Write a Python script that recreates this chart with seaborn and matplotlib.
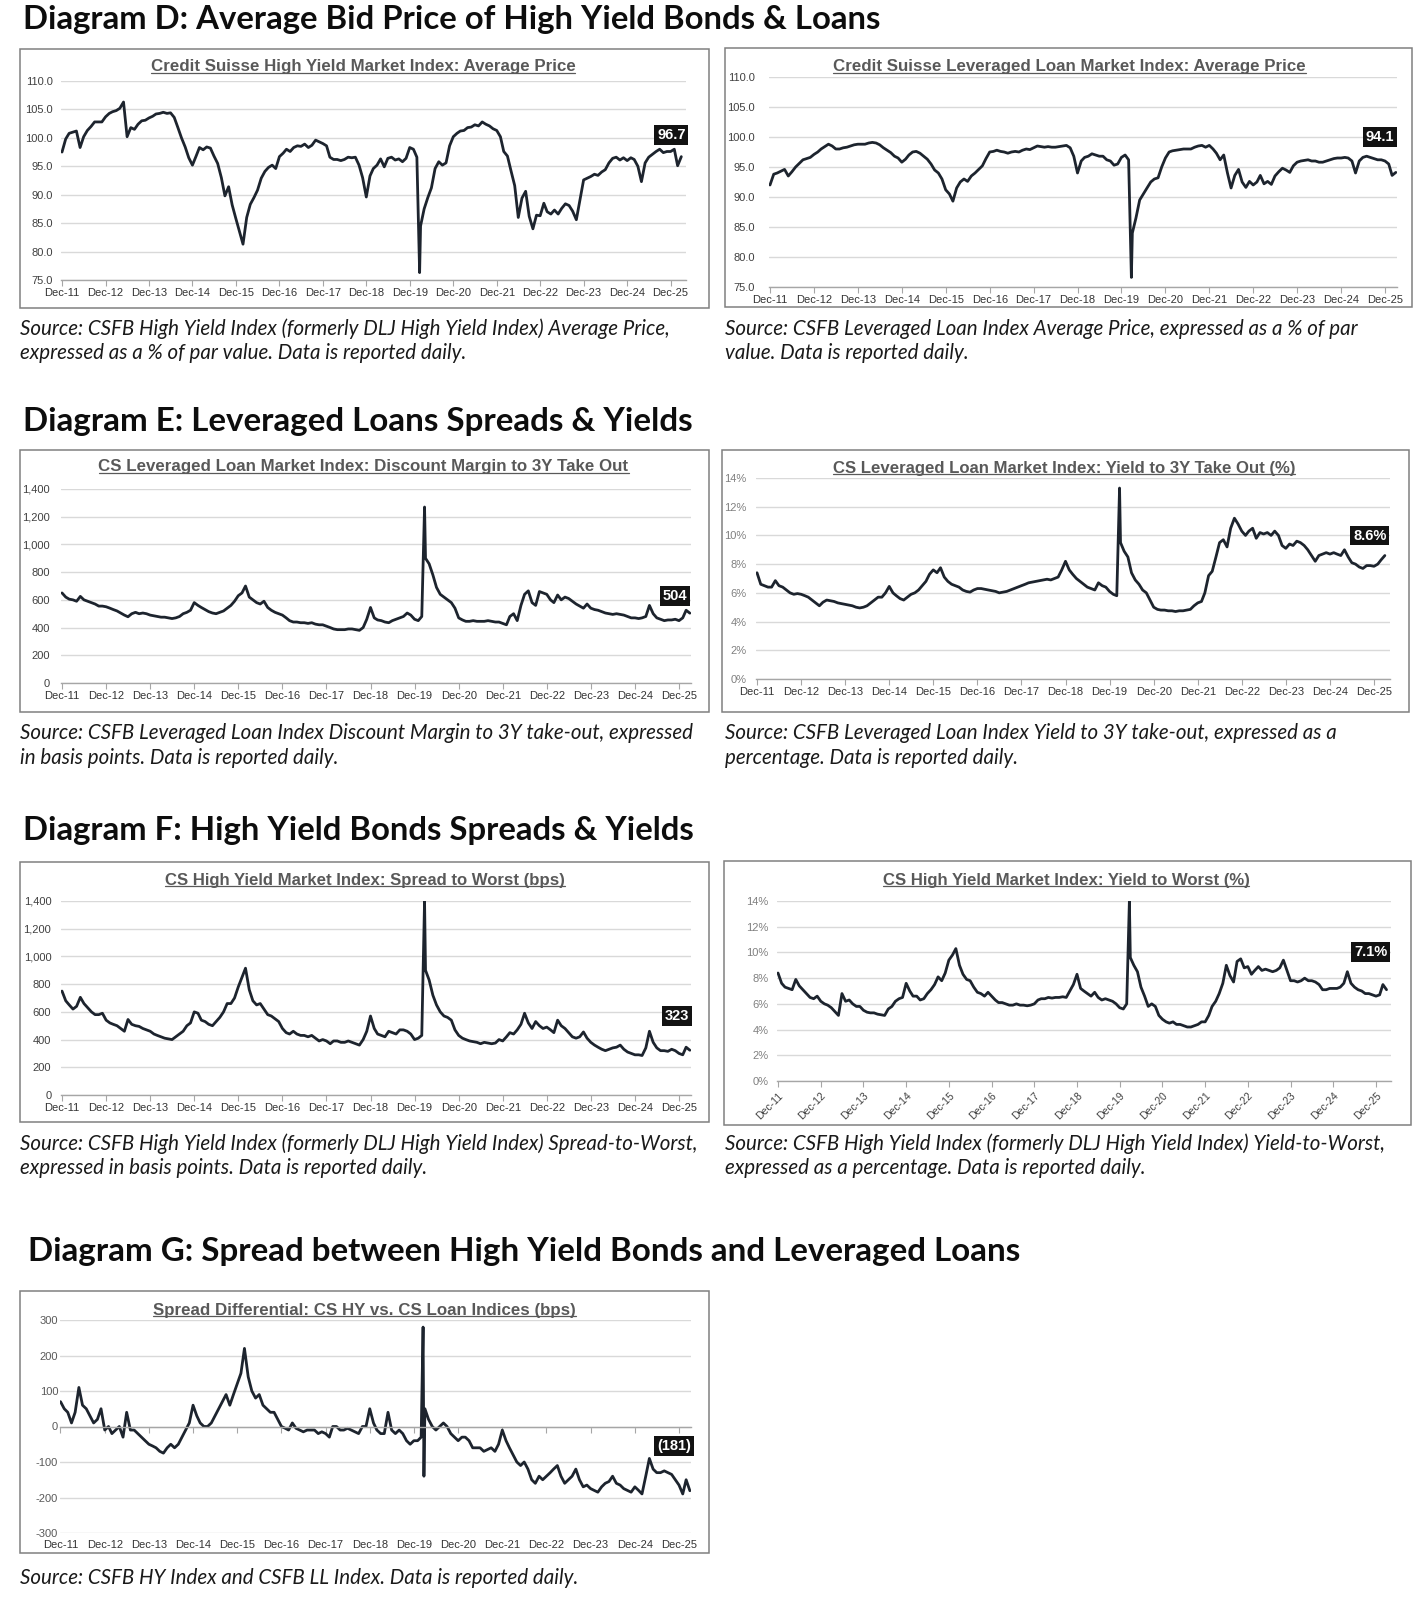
import numpy as np
import pandas as pd
import matplotlib
matplotlib.use('Agg')
import matplotlib.pyplot as plt
import matplotlib.dates as mdates
from matplotlib.patches import Rectangle
from matplotlib.lines import Line2D
from matplotlib.ticker import FuncFormatter
import seaborn as sns

# ---------------------------------------------------------------- data
months = pd.period_range('2011-12', '2026-03', freq='M').to_timestamp(how='end').normalize()
tick_years = list(range(2011, 2026))
tick_labels = [f"Dec-{y % 100:02d}" for y in tick_years]
spike_dates = ['2020-03-23']
sdiff_spike_dates = ['2020-03-16', '2020-03-23']

hy_price = [
    97.5,
    99.8, 100.8, 101.0, 101.2, 98.3, 100.2, 101.3, 102.0, 102.8, 102.8, 102.8, 103.7,
    104.3, 104.6, 104.8, 105.2, 106.3, 100.2, 101.8, 101.5, 102.4, 103.0, 103.1, 103.5,
    103.8, 104.2, 104.3, 104.5, 104.3, 104.4, 103.6, 101.8, 100.0, 98.4, 96.5, 95.2,
    96.8, 98.3, 97.9, 98.4, 98.2, 96.8, 95.5, 93.0, 89.8, 91.4, 88.2, 85.8,
    83.5, 81.3, 86.0, 88.3, 89.5, 90.8, 92.9, 94.1, 94.8, 95.2, 94.6, 96.7,
    97.3, 98.0, 97.6, 98.3, 98.6, 98.5, 98.9, 98.3, 98.7, 99.6, 99.3, 99.0,
    98.6, 96.6, 96.2, 96.2, 96.0, 96.2, 96.6, 96.5, 96.6, 95.2, 93.0, 89.6,
    93.3, 94.6, 95.2, 96.3, 94.9, 96.4, 96.6, 96.1, 96.3, 95.8, 96.4, 98.3,
    98.0, 96.6, 84.5, 87.5, 89.5, 91.2, 94.6, 95.8, 95.2, 95.6, 98.6, 100.2,
    100.8, 101.2, 101.3, 101.8, 101.9, 102.3, 102.1, 102.8, 102.4, 102.1, 101.6, 101.3,
    100.2, 97.6, 96.8, 94.2, 91.6, 86.0, 89.4, 90.6, 86.2, 84.0, 86.4, 86.3,
    88.5, 87.0, 86.6, 87.3, 86.6, 87.6, 88.4, 88.1, 87.1, 85.6, 89.0, 92.6,
    92.9, 93.2, 93.6, 93.4, 94.0, 94.4, 95.6, 96.4, 96.6, 96.1, 96.5, 96.0,
    96.5, 96.2, 95.0, 92.3, 95.6, 96.6, 97.1, 97.6, 98.0, 97.4, 97.6, 97.6,
    98.0, 95.1, 96.7]
hy_price_spike = [76.3]

ll_price = [
    92.0,
    93.8, 94.0, 94.3, 94.6, 93.5, 94.2, 95.0, 95.6, 96.2, 96.4, 96.6, 97.1,
    97.5, 98.0, 98.4, 98.8, 98.5, 98.0, 98.0, 98.2, 98.3, 98.5, 98.7, 98.8,
    98.8, 98.8, 99.0, 99.1, 99.0, 98.7, 98.2, 97.8, 97.4, 96.8, 96.5, 95.8,
    96.3, 97.0, 97.5, 97.6, 97.3, 96.8, 96.3, 95.5, 94.5, 94.0, 93.0, 91.2,
    90.5, 89.3, 91.5, 92.5, 93.0, 92.6, 93.5, 94.0, 94.6, 95.2, 96.4, 97.5,
    97.6, 97.8, 97.6, 97.5, 97.3, 97.5, 97.6, 97.5, 97.8, 98.0, 97.9, 98.2,
    98.5, 98.4, 98.3, 98.4, 98.3, 98.3, 98.4, 98.5, 98.6, 98.2, 96.8, 94.0,
    96.0, 96.6, 96.8, 97.2, 97.0, 96.8, 96.8, 96.2, 96.0, 95.3, 95.5, 96.6,
    97.0, 96.2, 84.0, 86.5, 89.5, 90.5, 91.5, 92.5, 93.0, 93.2, 95.0, 96.5,
    97.5, 97.7, 97.8, 97.9, 98.0, 98.0, 98.0, 98.3, 98.5, 98.6, 98.3, 98.6,
    98.0, 97.3, 96.2, 97.0, 94.0, 91.5, 93.6, 94.6, 92.5, 91.6, 92.6, 92.0,
    92.5, 93.6, 92.2, 92.6, 92.1, 93.5, 94.2, 94.8, 94.5, 94.1, 95.2, 95.8,
    96.0, 96.1, 96.2, 96.0, 96.0, 95.8, 95.8, 96.0, 96.2, 96.4, 96.5, 96.5,
    96.6, 96.5, 96.0, 94.0, 96.0, 96.6, 96.8, 96.6, 96.4, 96.2, 96.2, 96.0,
    95.5, 93.6, 94.1]
ll_price_spike = [76.6]

ll_dm = [
    650,
    620, 605, 600, 590, 625, 600, 590, 580, 570, 555, 555, 550,
    540, 530, 520, 505, 490, 478, 500, 510, 500, 505, 500, 490,
    485, 480, 475, 475, 470, 465, 470, 480, 500, 510, 525, 580,
    560, 545, 530, 515, 505, 500, 510, 520, 540, 560, 590, 630,
    650, 700, 620, 600, 580, 570, 590, 545, 525, 510, 500, 490,
    470, 450, 440, 440, 435, 435, 430, 435, 425, 420, 420, 410,
    400, 390, 385, 385, 385, 390, 390, 385, 380, 400, 460, 545,
    470, 455, 450, 440, 435, 450, 460, 470, 480, 505, 490, 460,
    450, 480, 900, 860, 780, 690, 640, 620, 600, 580, 540, 470,
    455, 445, 445, 450, 445, 445, 445, 450, 445, 440, 440, 430,
    420, 480, 500, 450, 560, 640, 665, 580, 560, 660, 650, 640,
    600, 580, 635, 600, 620, 610, 590, 570, 555, 540, 570, 540,
    530, 525, 515, 505, 500, 495, 500, 495, 490, 480, 470, 470,
    465, 470, 480, 560, 500, 470, 460, 450, 455, 455, 460, 450,
    470, 525, 504]
ll_dm_spike = [1270]

ll_yield = [
    7.4,
    6.6, 6.5, 6.4, 6.4, 6.85, 6.5, 6.4, 6.2, 6.0, 5.9, 5.95, 5.9,
    5.8, 5.7, 5.5, 5.3, 5.1, 5.35, 5.5, 5.45, 5.4, 5.3, 5.25, 5.2,
    5.15, 5.1, 5.0, 4.95, 5.0, 5.1, 5.3, 5.5, 5.7, 5.7, 6.0, 6.45,
    6.0, 5.8, 5.6, 5.5, 5.7, 5.9, 6.0, 6.2, 6.5, 6.8, 7.3, 7.6,
    7.4, 7.75, 7.1, 6.8, 6.6, 6.5, 6.4, 6.2, 6.1, 6.05, 6.2, 6.3,
    6.3, 6.25, 6.2, 6.15, 6.1, 6.0, 6.05, 6.1, 6.2, 6.3, 6.4, 6.5,
    6.6, 6.7, 6.75, 6.8, 6.85, 6.9, 6.95, 6.9, 7.0, 7.1, 7.6, 8.2,
    7.6, 7.3, 7.0, 6.8, 6.6, 6.4, 6.3, 6.2, 6.7, 6.5, 6.4, 6.1,
    5.9, 5.8, 9.5, 8.9, 8.5, 7.4, 6.9, 6.6, 6.2, 6.0, 5.5, 5.0,
    4.85, 4.8, 4.8, 4.75, 4.75, 4.7, 4.75, 4.75, 4.8, 4.85, 5.1, 5.3,
    5.4, 6.0, 7.2, 7.5, 8.5, 9.5, 9.7, 9.2, 10.5, 11.2, 10.8, 10.3,
    10.0, 10.3, 10.5, 9.8, 10.2, 10.1, 10.2, 10.0, 10.3, 10.0, 9.3, 9.1,
    9.4, 9.3, 9.6, 9.5, 9.3, 9.0, 8.6, 8.2, 8.6, 8.7, 8.8, 8.7,
    8.8, 8.7, 8.6, 9.0, 8.5, 8.1, 8.0, 7.8, 7.7, 7.9, 7.9, 7.85,
    8.0, 8.3, 8.6]
ll_yield_spike = [13.3]

hy_stw = [
    750,
    680, 650, 620, 640, 705, 660, 630, 600, 580, 580, 590, 540,
    520, 510, 500, 480, 460, 545, 510, 500, 495, 480, 470, 460,
    440, 430, 420, 410, 405, 400, 420, 440, 460, 500, 520, 600,
    590, 540, 530, 510, 500, 530, 560, 600, 660, 660, 700, 780,
    850, 915, 760, 680, 650, 660, 620, 580, 570, 550, 530, 480,
    450, 440, 460, 440, 430, 430, 420, 430, 410, 390, 400, 390,
    370, 390, 390, 380, 380, 390, 380, 370, 360, 400, 460, 570,
    480, 440, 430, 420, 460, 450, 440, 470, 470, 460, 440, 400,
    410, 430, 900, 830, 720, 650, 600, 570, 560, 540, 470, 430,
    410, 400, 390, 385, 380, 370, 380, 375, 370, 375, 400, 390,
    420, 450, 440, 470, 510, 590, 520, 480, 530, 500, 480, 490,
    470, 450, 540, 500, 480, 450, 420, 410, 420, 455, 410, 380,
    360, 345, 330, 320, 330, 340, 345, 360, 330, 310, 300, 290,
    290, 285, 340, 460, 380, 340, 320, 320, 315, 330, 320, 300,
    290, 345, 323]
hy_stw_spike = [1400]

hy_ytw = [
    8.4,
    7.6, 7.3, 7.2, 7.1, 7.9, 7.4, 7.1, 6.8, 6.5, 6.4, 6.6, 6.2,
    6.0, 5.9, 5.7, 5.4, 5.1, 6.8, 6.2, 6.3, 6.0, 5.8, 5.8, 5.5,
    5.35, 5.3, 5.3, 5.2, 5.15, 5.1, 5.6, 5.8, 6.2, 6.4, 6.5, 7.6,
    7.0, 6.6, 6.6, 6.3, 6.4, 6.8, 7.1, 7.5, 8.1, 7.8, 8.4, 9.4,
    9.8, 10.3, 9.0, 8.3, 7.9, 7.8, 7.3, 6.9, 6.8, 6.6, 6.9, 6.6,
    6.3, 6.1, 6.1, 6.0, 5.9, 5.9, 6.0, 5.9, 5.9, 5.85, 5.9, 6.0,
    6.3, 6.4, 6.4, 6.5, 6.45, 6.5, 6.5, 6.55, 6.5, 7.0, 7.5, 8.3,
    7.2, 7.0, 6.8, 6.6, 6.9, 6.5, 6.3, 6.4, 6.3, 6.2, 6.0, 5.7,
    5.6, 6.0, 9.6, 9.0, 8.5, 7.3, 6.6, 5.8, 6.0, 5.8, 5.1, 4.8,
    4.6, 4.5, 4.6, 4.4, 4.4, 4.3, 4.2, 4.2, 4.3, 4.4, 4.6, 4.6,
    5.1, 5.8, 6.2, 6.8, 7.6, 9.0, 8.2, 7.7, 9.3, 9.5, 8.8, 8.9,
    8.3, 8.6, 8.9, 8.6, 8.7, 8.6, 8.5, 8.6, 8.8, 9.4, 8.6, 7.8,
    7.8, 7.7, 7.8, 8.0, 7.8, 7.8, 7.7, 7.5, 7.1, 7.1, 7.2, 7.2,
    7.2, 7.3, 7.6, 8.5, 7.6, 7.3, 7.1, 7.0, 6.8, 6.8, 6.7, 6.6,
    6.7, 7.5, 7.1]
hy_ytw_spike = [14.0]

sdiff = [
    70,
    50, 40, 10, 40, 110, 60, 50, 30, 10, 20, 50, -10,
    0, -20, -10, 0, -30, 40, -10, -10, -20, -30, -40, -50,
    -55, -60, -70, -75, -60, -50, -60, -50, -30, -10, 10, 60,
    30, 10, 0, 0, 10, 30, 50, 70, 90, 60, 90, 120,
    150, 220, 140, 100, 80, 90, 60, 50, 40, 40, 20, 0,
    -5, -10, 10, -5, -10, -15, -10, -10, -10, -20, -15, -20,
    -30, 0, 0, -10, -10, -5, -10, -15, -20, 0, 0, 50,
    10, -10, -20, -20, 40, -10, -20, -10, -20, -40, -50, -40,
    -40, -30, 50, 20, 0, -10, 0, 10, 0, -20, -30, -40,
    -30, -30, -40, -60, -60, -60, -70, -65, -60, -70, -50, -10,
    -40, -60, -80, -100, -110, -100, -120, -150, -160, -140, -150, -140,
    -130, -120, -110, -140, -160, -150, -140, -120, -150, -170, -165, -175,
    -180, -185, -170, -160, -155, -140, -160, -165, -175, -180, -185, -170,
    -180, -190, -140, -90, -120, -130, -130, -125, -130, -135, -150, -165,
    -190, -150, -181]
sdiff_spike = [280, -140]

main_titles = [
    "Diagram D: Average Bid Price of High Yield Bonds & Loans",
    "Diagram E: Leveraged Loans Spreads & Yields",
    "Diagram F: High Yield Bonds Spreads & Yields",
    "Diagram G: Spread between High Yield Bonds and Leveraged Loans",
]


def make_series(vals, sp_dates, sp_vals):
    assert len(vals) == len(months), (len(vals), len(months))
    d = pd.DataFrame({'date': list(months) + list(pd.to_datetime(sp_dates)),
                      'value': list(vals) + list(sp_vals)})
    return d.sort_values('date').reset_index(drop=True)


# ---------------------------------------------------------------- style
sns.set_theme(style='white')
plt.rcParams['font.family'] = ['Liberation Sans', 'DejaVu Sans']
TITLE_FONT = ['Lato', 'Open Sans', 'DejaVu Sans']
NARROW = ['Liberation Sans Narrow', 'Liberation Sans', 'DejaVu Sans']
LINE = '#1d242e'
GRID = '#d9d9d9'
AXC = '#a6a6a6'
BOX = '#808080'
CT = '#595959'

W, H = 1427, 1600
fig = plt.figure(figsize=(W / 100, H / 100), dpi=100)
fig.patch.set_facecolor('white')

fmt_price = FuncFormatter(lambda v, p: f"{v:.1f}")
fmt_bps = FuncFormatter(lambda v, p: f"{v:,.0f}")
fmt_pct = FuncFormatter(lambda v, p: f"{v:.0f}%")
fmt_int = FuncFormatter(lambda v, p: f"{v:.0f}")

panels = [
    dict(df=make_series(hy_price, spike_dates, hy_price_spike), box=(20.4, 49, 709, 308),
         p11=62, p25=670.6, pr=686, ytop=81, ybot=280, ylim=(75, 110), step=5, fmt=fmt_price,
         title='Credit Suisse High Yield Market Index: Average Price', tc=(363, 67), tw=422,
         label='96.7', off=(-10, 22), ycol='#404040', ypad=6, rot=False, zero=False),
    dict(df=make_series(ll_price, spike_dates, ll_price_spike), box=(725, 48, 1412, 307),
         p11=770, p25=1385, pr=1397, ytop=77, ybot=287, ylim=(75, 110), step=5, fmt=fmt_price,
         title='Credit Suisse Leveraged Loan Market Index: Average Price', tc=(1069.5, 67), tw=469,
         label='94.1', off=(-16, 35), ycol='#404040', ypad=10, rot=False, zero=False),
    dict(df=make_series(ll_dm, spike_dates, ll_dm_spike), box=(20.4, 450, 709, 712),
         p11=62, p25=679, pr=691, ytop=489, ybot=683, ylim=(0, 1400), step=200, fmt=fmt_bps,
         title='CS Leveraged Loan Market Index: Discount Margin to 3Y Take Out', tc=(363.5, 467), tw=527,
         label='504', off=(-15, 17), ycol='#404040', ypad=8, rot=False, zero=False),
    dict(df=make_series(ll_yield, spike_dates, ll_yield_spike), box=(722, 450, 1409, 712),
         p11=757, p25=1374, pr=1390, ytop=478, ybot=679, ylim=(0, 14), step=2, fmt=fmt_pct,
         title='CS Leveraged Loan Market Index: Yield to 3Y Take Out (%)', tc=(1064, 468), tw=463,
         label='8.6%', off=(-15, 20), ycol='#808080', ypad=7, rot=False, zero=False),
    dict(df=make_series(hy_stw, spike_dates, hy_stw_spike), box=(20.4, 862, 709, 1122),
         p11=62, p25=679, pr=691, ytop=901, ybot=1095, ylim=(0, 1400), step=200, fmt=fmt_bps,
         title='CS High Yield Market Index: Spread to Worst (bps)', tc=(365, 880), tw=400,
         label='323', off=(-13, 34), ycol='#404040', ypad=7, rot=False, zero=False),
    dict(df=make_series(hy_ytw, spike_dates, hy_ytw_spike), box=(724, 861, 1411, 1125),
         p11=778, p25=1376, pr=1391, ytop=901, ybot=1081, ylim=(0, 14), step=2, fmt=fmt_pct,
         title='CS High Yield Market Index: Yield to Worst (%)', tc=(1066, 880), tw=366,
         label='7.1%', off=(-16, 38), ycol='#808080', ypad=6, rot=True, zero=False),
    dict(df=make_series(sdiff, sdiff_spike_dates, sdiff_spike), box=(20.4, 1291, 709, 1553),
         p11=60.5, p25=679, pr=691, ytop=1320, ybot=1533, ylim=(-300, 300), step=100, fmt=fmt_int,
         title='Spread Differential: CS HY vs. CS Loan Indices (bps)', tc=(364.5, 1310), tw=419,
         label='(181)', off=(-16, 45), ycol='#595959', ypad=1, rot=False, zero=True),
]

d11 = mdates.date2num(pd.Timestamp('2011-12-31'))
d25 = mdates.date2num(pd.Timestamp('2025-12-31'))
tick_nums = mdates.date2num(pd.to_datetime([f"{y}-12-31" for y in tick_years]))

chart_titles = []
for p in panels:
    x0, y0, x1, y1 = p['box']
    fig.add_artist(Rectangle((x0 / W, 1 - y1 / H), (x1 - x0) / W, (y1 - y0) / H,
                             transform=fig.transFigure, fill=False, ec=BOX, lw=1.1))
    dpp = (d25 - d11) / (p['p25'] - p['p11'])
    lpx = p['p11'] - 1
    ax = fig.add_axes([lpx / W, 1 - p['ybot'] / H, (p['pr'] - lpx) / W, (p['ybot'] - p['ytop']) / H])
    df = p['df']
    sns.lineplot(data=df, x='date', y='value', ax=ax, color=LINE, lw=2.0,
                 estimator=None, legend=False)
    ax.set_xlim(d11 - dpp, d11 + (p['pr'] - p['p11']) * dpp)
    ymin, ymax = p['ylim']
    ax.set_ylim(ymin, ymax)
    ax.set_yticks(np.arange(ymin, ymax + p['step'] / 2, p['step']))
    ax.yaxis.set_major_formatter(p['fmt'])
    ax.set_xlabel('')
    ax.set_ylabel('')
    ax.set_facecolor('none')
    for s in ['top', 'right', 'left']:
        ax.spines[s].set_visible(False)
    ax.spines['bottom'].set_color(AXC)
    ax.spines['bottom'].set_linewidth(1.0)
    ax.grid(True, axis='y', color=GRID, lw=1.0)
    ax.grid(False, axis='x')
    ax.set_axisbelow(True)
    ax.set_xticks(tick_nums)
    ax.set_xticklabels(tick_labels)
    ax.tick_params(axis='x', length=4, width=0.8, color=AXC, labelsize=8,
                   labelcolor='#333333', pad=2, bottom=True)
    ax.tick_params(axis='y', length=0, labelsize=8, labelcolor=p['ycol'], pad=p['ypad'], left=False)
    if p['rot']:
        for lab in ax.get_xticklabels():
            lab.set_rotation(45)
            lab.set_ha('right')
            lab.set_rotation_mode('anchor')
            lab.set_color('#404040')
        ax.tick_params(axis='x', labelsize=7.5, pad=3)
    if p['zero']:
        ax.spines['bottom'].set_position(('data', 0))
        ax.tick_params(axis='x', labelbottom=False)
        sec = ax.secondary_xaxis('bottom')
        sec.set_xticks(tick_nums)
        sec.set_xticklabels(tick_labels)
        sec.tick_params(axis='x', length=0, labelsize=8, labelcolor='#333333', pad=5)
        sec.spines['bottom'].set_visible(False)
    # last value tag
    ax.annotate(p['label'], xy=(mdates.date2num(df['date'].iloc[-1]), df['value'].iloc[-1]),
                xytext=p['off'], textcoords='offset pixels', ha='center', va='center',
                color='white', fontweight='bold', fontsize=10.5, annotation_clip=False,
                family=NARROW,
                bbox=dict(boxstyle='square,pad=0.2', fc='#121212', ec='none'), zorder=5)
    t = fig.text(p['tc'][0] / W, 1 - p['tc'][1] / H, p['title'], ha='center', va='center',
                 fontsize=12, fontweight='bold', color=CT, family=NARROW)
    chart_titles.append((t, p['tw']))

# main titles
title_specs = [(23, 19, 857), (23, 421, 671), (23, 830, 672), (27.6, 1251, 994)]
title_texts = []
for txt, (x, y, w) in zip(main_titles, title_specs):
    t = fig.text(x / W, 1 - y / H, txt, ha='left', va='center', fontsize=20,
                 fontweight='bold', family=TITLE_FONT, color='#0d0d0d')
    title_texts.append((t, w))

# source notes
source_specs = [
    (20.4, 329, "Source: CSFB High Yield Index (formerly DLJ High Yield Index) Average Price,"),
    (20.4, 353, "expressed as a % of par value. Data is reported daily."),
    (725, 329, "Source: CSFB Leveraged Loan Index Average Price, expressed as a % of par"),
    (725, 353, "value. Data is reported daily."),
    (20.4, 733, "Source: CSFB Leveraged Loan Index Discount Margin to 3Y take-out, expressed"),
    (20.4, 758, "in basis points. Data is reported daily."),
    (725, 733, "Source: CSFB Leveraged Loan Index Yield to 3Y take-out, expressed as a"),
    (725, 758, "percentage. Data is reported daily."),
    (20.4, 1144, "Source: CSFB High Yield Index (formerly DLJ High Yield Index) Spread-to-Worst,"),
    (20.4, 1168, "expressed in basis points. Data is reported daily."),
    (725, 1144, "Source: CSFB High Yield Index (formerly DLJ High Yield Index) Yield-to-Worst,"),
    (725, 1168, "expressed as a percentage. Data is reported daily."),
    (20.4, 1578, "Source: CSFB HY Index and CSFB LL Index. Data is reported daily."),
]
src_texts = []
for x, y, txt in source_specs:
    t = fig.text(x / W, 1 - y / H, txt, ha='left', va='center', fontsize=12,
                 style='italic', family=TITLE_FONT, color='#1a1a1a')
    src_texts.append(t)

# ---------------------------------------------------------------- fit text sizes
fig.canvas.draw()
r = fig.canvas.get_renderer()


def fit(t, target):
    w = t.get_window_extent(r).width
    t.set_fontsize(t.get_fontsize() * target / w)


for t, w in title_texts:
    fit(t, w)
for t, w in chart_titles:
    fit(t, w)
ref = src_texts[-1]
fit(ref, 557)
for t in src_texts:
    t.set_fontsize(ref.get_fontsize())

# underline chart titles
for t, w in chart_titles:
    bb = t.get_window_extent(r)
    yy = (bb.y0 + 1.5) / H
    fig.add_artist(Line2D([bb.x0 / W, bb.x1 / W], [yy, yy], transform=fig.transFigure,
                          color=CT, lw=0.9))

fig.savefig('out.png', dpi=100, facecolor='white')
